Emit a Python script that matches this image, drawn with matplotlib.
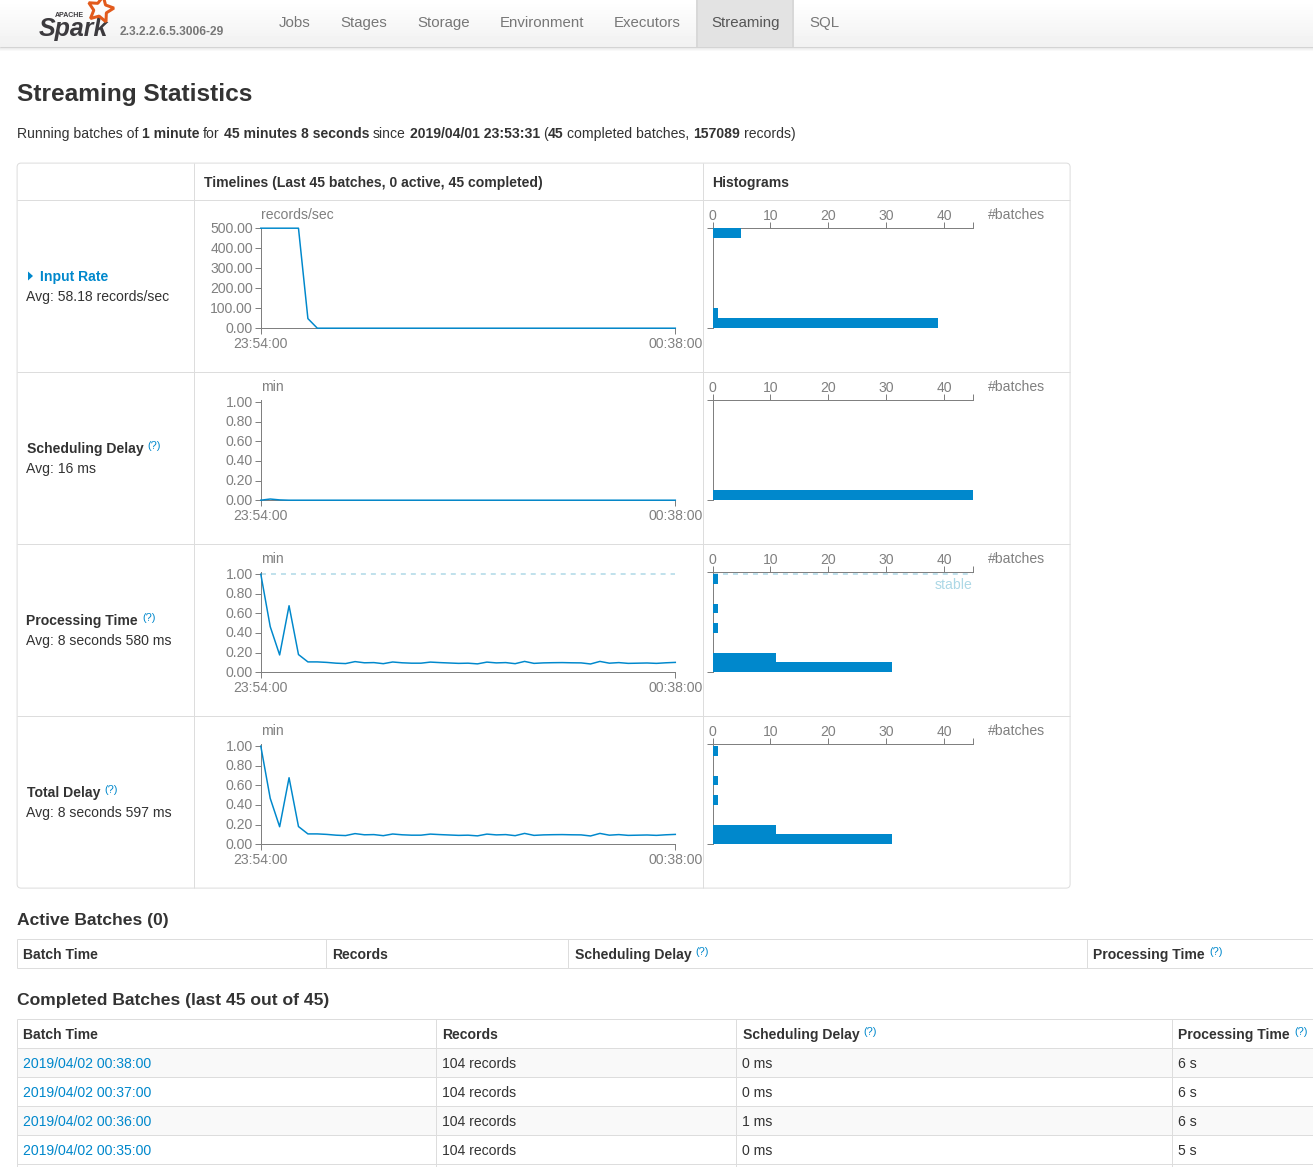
"""
Spark UI streaming statistics page, redrawn with matplotlib.
Background axes works in page pixels, the small charts get their own axes.
"""

import numpy as np
import matplotlib
matplotlib.use("Agg")
import matplotlib.pyplot as plt
from matplotlib.patches import FancyBboxPatch, Rectangle, Polygon
from matplotlib.transforms import ScaledTranslation

W, H = 1313, 1167
PT = 72 / 100  # px -> pt at dpi 100

plt.rcParams['font.family'] = ['Liberation Sans', 'DejaVu Sans']

BLUE = "#0088cc"
DARK = "#333333"
GREY = "#808080"
LINE = "#dddddd"

nav_items = ["Jobs", "Stages", "Storage", "Environment", "Executors", "Streaming", "SQL"]
nav_x = [279, 340, 417, 500, 614, 711, 809]

summary_parts = ["Running batches of", "1 minute", "for", "45 minutes 8 seconds", "since",
                 "2019/04/01 23:53:31", "(", "45", "completed batches,", "157089", "records)"]
summary_bold = [False, True, False, True, False, True, False, True, False, True, False]
summary_x = [17, 142, 203, 223.5, 372.5, 410, 543, 547.5, 567, 693, 744]

# timeline values, one per batch
batch_minutes = list(range(45))
time_labels = ["23:54:00", "00:38:00"]
input_rate = [500, 500, 500, 500, 500, 48] + [0] * 39
sched_delay = [0, 0.012, 0.003] + [0] * 42
proc_time = [1.00, 0.465, 0.176, 0.678, 0.18, 0.105, 0.105, 0.100, 0.092, 0.088,
             0.108, 0.096, 0.098, 0.087, 0.104, 0.096, 0.092, 0.092, 0.103, 0.098,
             0.094, 0.090, 0.092, 0.085, 0.103, 0.095, 0.098, 0.087, 0.110, 0.090,
             0.095, 0.097, 0.098, 0.096, 0.095, 0.084, 0.110, 0.092, 0.098, 0.090,
             0.092, 0.094, 0.090, 0.096, 0.100]
total_delay = [1.00, 0.468, 0.178, 0.678, 0.18, 0.105, 0.105, 0.100, 0.092, 0.088,
               0.108, 0.096, 0.098, 0.087, 0.104, 0.096, 0.092, 0.092, 0.103, 0.098,
               0.094, 0.090, 0.092, 0.085, 0.103, 0.095, 0.098, 0.087, 0.110, 0.090,
               0.095, 0.097, 0.098, 0.096, 0.095, 0.084, 0.110, 0.092, 0.098, 0.090,
               0.092, 0.094, 0.090, 0.096, 0.100]

# histogram values, 10 bins over the y range of the timeline
input_hist = [39, 1, 0, 0, 0, 0, 0, 0, 0, 5]
sched_hist = [45, 0, 0, 0, 0, 0, 0, 0, 0, 0]
proc_hist = [31, 11, 0, 0, 1, 0, 1, 0, 0, 1]
total_hist = [31, 11, 0, 0, 1, 0, 1, 0, 0, 1]

input_ticks = [0, 100, 200, 300, 400, 500]
min_ticks = [0, 0.2, 0.4, 0.6, 0.8, 1.0]
hist_ticks = [0, 10, 20, 30, 40]

# completed batches table
batch_times = ["2019/04/02 00:38:00", "2019/04/02 00:37:00", "2019/04/02 00:36:00", "2019/04/02 00:35:00"]
batch_records = ["104 records", "104 records", "104 records", "104 records"]
batch_sched = ["0 ms", "0 ms", "1 ms", "0 ms"]
batch_proc = ["6 s", "6 s", "6 s", "5 s"]

fig = plt.figure(figsize=(W / 100, H / 100), dpi=100)
bg = fig.add_axes([0, 0, 1, 1])
bg.set_axis_off()


def txt(x, y, s, size=14, color=DARK, bold=False, ha='left', **kw):
    # y is the middle of the capitals, so every line sits on the same baseline
    return bg.text(x, y + 0.36 * size, s, fontsize=size * PT, color=color, ha=ha, va='baseline',
                   fontweight='bold' if bold else 'normal', **kw)


def hline(x0, x1, y, color=LINE):
    bg.plot([x0, x1], [y + 0.1, y + 0.1], color=color, lw=PT, solid_capstyle='butt')


def vline(x, y0, y1, color=LINE):
    bg.plot([x + 0.1, x + 0.1], [y0, y1], color=color, lw=PT, solid_capstyle='butt')


def draw_navbar():
    grad = np.linspace(1.0, 0.945, 47).reshape(-1, 1)
    bg.imshow(grad, extent=(0, W, 47, 0), cmap='gray', vmin=0, vmax=1, aspect='auto', zorder=0)
    shadow = np.linspace(0.9, 1.0, 5).reshape(-1, 1)
    bg.imshow(shadow, extent=(0, W, 52, 47), cmap='gray', vmin=0, vmax=1, aspect='auto', zorder=0)
    bg.add_patch(Rectangle((696, 0), 98, 47, fc="#e3e3e3", ec="none", zorder=1))
    bg.add_patch(Rectangle((696, 0), 2, 47, fc="#d8d8d8", ec="none", zorder=1))
    bg.add_patch(Rectangle((792, 0), 2, 47, fc="#d8d8d8", ec="none", zorder=1))
    hline(0, W, 47, "#d4d4d4")
    for name, x in zip(nav_items, nav_x):
        txt(x, 22, name, size=15, color="#555555" if name == "Streaming" else "#777777")
    txt(120, 31, "2.3.2.2.6.5.3006-29", size=12, color="#777777", bold=True)
    # logo
    bg.text(39, 36, "Spark", fontsize=25 * PT, color="#3c3a3e", fontweight='bold', style='italic',
            va='baseline')
    txt(55, 14, "APACHE", size=7, color="#3c3a3e", bold=True)
    bg.plot([100], [9], marker=(5, 1, -12), ms=27 * PT, mfc='none', mec="#e25a1c", mew=3 * PT, zorder=3)


def draw_tables():
    # streaming statistics frame
    bg.add_patch(FancyBboxPatch((17.1, 163.1), 1053, 725, boxstyle="round,pad=0,rounding_size=4",
                                fc="none", ec=LINE, lw=PT, zorder=1))
    for y in [200, 372, 544, 716]:
        hline(17, 1070, y)
    vline(194, 163, 888)
    vline(703, 163, 888)
    txt(204, 182, "Timelines (Last 45 batches, 0 active, 45 completed)", bold=True)
    txt(712, 182, "Histograms", bold=True)

    # active batches
    txt(17, 919, "Active Batches (0)", size=17.5, bold=True)
    hline(17, W, 939)
    hline(17, W, 968)
    for x in [17, 326, 568, 1087]:
        vline(x, 939, 968)
    txt(23, 954, "Batch Time", bold=True)
    txt(332, 954, "Records", bold=True)
    txt(575, 954, "Scheduling Delay", bold=True)
    txt(695, 951, "(?)", size=11, color=BLUE)
    txt(1093, 954, "Processing Time", bold=True)
    txt(1209, 951, "(?)", size=11, color=BLUE)

    # completed batches
    txt(17, 999, "Completed Batches (last 45 out of 45)", size=17.5, bold=True)
    row_lines = [1019, 1048, 1077, 1106, 1135, 1164]
    for i in range(len(batch_times)):
        if i % 2 == 0:
            bg.add_patch(Rectangle((17, row_lines[i + 1]), W, 29, fc="#f9f9f9", ec="none", zorder=0.5))
    for y in row_lines:
        hline(17, W, y)
    for x in [17, 436, 736, 1172]:
        vline(x, 1019, H)
    txt(23, 1034, "Batch Time", bold=True)
    txt(442, 1034, "Records", bold=True)
    txt(743, 1034, "Scheduling Delay", bold=True)
    txt(863, 1031, "(?)", size=11, color=BLUE)
    txt(1178, 1034, "Processing Time", bold=True)
    txt(1294, 1031, "(?)", size=11, color=BLUE)
    for i, y in enumerate([1063, 1092, 1121, 1150]):
        txt(23, y, batch_times[i], color=BLUE)
        txt(442, y, batch_records[i])
        txt(742, y, batch_sched[i])
        txt(1178, y, batch_proc[i])


def timeline(top, values, ymax, ticks, unit, stable=False):
    ax = fig.add_axes([260.8 / W, 1 - (top + 100.2) / H, 414.5 / W, 100 / H], facecolor='none')
    if stable:
        ax.axhline(1.0, color="#add8e6", lw=1.5 * PT, dashes=(3.33, 3.33), zorder=1)
    ax.plot(batch_minutes, values, color=BLUE, lw=1.5 * PT, clip_on=False, zorder=3)
    ax.set_xlim(batch_minutes[0], batch_minutes[-1])
    ax.set_ylim(0, ymax)
    ax.set_xticks([batch_minutes[0], batch_minutes[-1]], time_labels)
    ax.set_yticks(ticks, [f"{t:.2f}" for t in ticks])
    ax.tick_params(colors=GREY, labelcolor=GREY, labelsize=14 * PT, length=6 * PT, width=PT, pad=3 * PT)
    ax.tick_params(axis='y', pad=2 * PT)
    up = ScaledTranslation(0, 1 / 100, fig.dpi_scale_trans)
    for tick in ax.yaxis.get_major_ticks():
        tick.label1.set_transform(tick.label1.get_transform() + up)
    for name in ['top', 'right']:
        ax.spines[name].set_visible(False)
    for name in ['left', 'bottom']:
        ax.spines[name].set_color(GREY)
        ax.spines[name].set_linewidth(PT)
    txt(261, top - 14, unit, color=GREY)
    return ax


def histogram(top, counts, ymax, bin_width, stable=False):
    ax = fig.add_axes([712.5 / W, 1 - (top + 100.2) / H, 260.5 / W, 100 / H], facecolor='none')
    edges = np.arange(len(counts)) * bin_width
    ax.barh(edges, counts, height=bin_width, align='edge', color=BLUE, zorder=3)
    if stable:
        ax.axhline(1.0, color="#add8e6", lw=1.5 * PT, dashes=(3.33, 3.33), zorder=1)
        txt(972, top + 12, "stable", color="#add8e6", ha='right')
    ax.set_xlim(0, 45)
    ax.set_ylim(0, ymax)
    ax.xaxis.tick_top()
    ax.set_xticks(hist_ticks + [45], [str(t) for t in hist_ticks] + [""])
    ax.set_yticks([0, ymax], ["", ""])
    ax.tick_params(colors=GREY, labelcolor=GREY, labelsize=14 * PT, length=6 * PT, width=PT, pad=-1 * PT)
    for name in ['bottom', 'right']:
        ax.spines[name].set_visible(False)
    for name in ['left', 'top']:
        ax.spines[name].set_color(GREY)
        ax.spines[name].set_linewidth(PT)
    txt(988, top - 14, "#batches", color=GREY)
    return ax


def row_header(y, label, label_x, qmark_x, avg):
    txt(label_x, y, label, bold=True)
    txt(qmark_x, y - 3, "(?)", size=11, color=BLUE)
    txt(26, y + 20, avg)


draw_navbar()

txt(17, 92, "Streaming Statistics", size=24.5, bold=True)
for part, is_bold, part_x in zip(summary_parts, summary_bold, summary_x):
    txt(part_x, 133, part, bold=is_bold)

draw_tables()

# row headers
bg.add_patch(Polygon([[28, 271.5], [28, 280.5], [33, 276]], fc=BLUE, ec="none"))
txt(40, 276, "Input Rate", bold=True, color=BLUE)
txt(26, 296, "Avg: 58.18 records/sec")
row_header(448, "Scheduling Delay", 27, 147, "Avg: 16 ms")
row_header(620, "Processing Time", 26, 142, "Avg: 8 seconds 580 ms")
row_header(792, "Total Delay", 27, 104, "Avg: 8 seconds 597 ms")

bg.set_xlim(0, W)
bg.set_ylim(H, 0)

timeline(228, input_rate, 500, input_ticks, "records/sec")
histogram(228, input_hist, 500, 50)
timeline(400, sched_delay, 1.02, min_ticks, "min")
histogram(400, sched_hist, 1.02, 0.1)
timeline(572, proc_time, 1.02, min_ticks, "min", stable=True)
histogram(572, proc_hist, 1.02, 0.1, stable=True)
timeline(744, total_delay, 1.02, min_ticks, "min")
histogram(744, total_hist, 1.02, 0.1)

plt.savefig("out.png", dpi=100)
plt.close()
